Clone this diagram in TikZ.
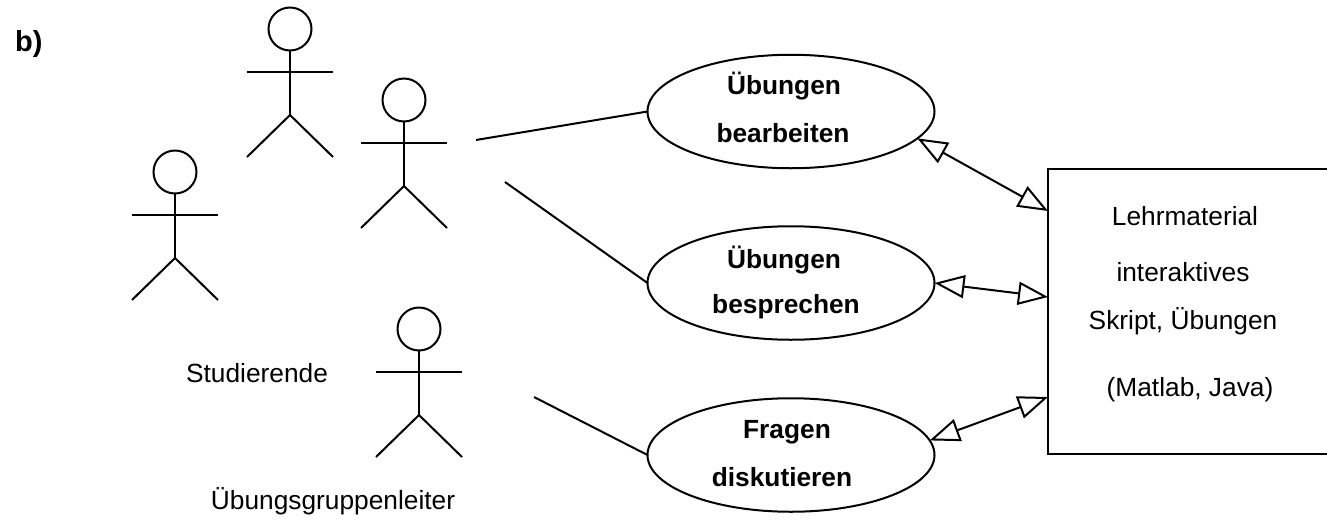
\documentclass[tikz,border=0pt]{standalone}
\usepackage{fontspec}
\setmainfont{Liberation Sans}
\usetikzlibrary{shapes.geometric,arrows.meta}
\tikzset{
  ln/.style={line width=2pt,black},
  usecase/.style={ellipse,draw,line width=2pt,minimum width=287pt,minimum height=113.5pt,inner sep=0pt,outer sep=0pt},
  txt/.style={anchor=base,inner sep=0pt,font=\fontsize{26.3}{30}\selectfont},
  btxt/.style={anchor=base,inner sep=0pt,font=\fontsize{26.3}{30}\selectfont\bfseries},
  assoc/.style={ln,{Triangle[open,length=30pt,width=23pt,line width=2pt]}-{Triangle[open,length=30pt,width=23pt,line width=2pt]}},
  actor/.pic={
    \node[circle,draw,line width=2pt,minimum size=43pt,inner sep=0pt,outer sep=0pt] (-head) at (0,0) {};
    \coordinate (-hip) at (0,86);
    \draw[ln] (-head.south) -- (-hip);
    \draw[ln] (-43,43) -- (43,43);
    \draw[ln] (-43,128) -- (-hip) -- (43,128);
  }
}
\begin{document}
\begin{tikzpicture}[x=1pt,y=-1pt]
\useasboundingbox (0,0) rectangle (1327,525);
\node[btxt,anchor=base west,font=\fontsize{29}{32}\selectfont\bfseries] (blabel) at (15,51) {b)};
\pic (a1) at (175,172) {actor};
\pic (a2) at (290,29) {actor};
\pic (a3) at (404,100) {actor};
\pic (a4) at (419,329) {actor};
\node[txt] (studierende) at (257,382) {Studierende};
\node[txt] (leiter) at (333,509) {Übungsgruppenleiter};
\node[usecase] (e1) at (791,111.5) {};
\node[usecase] (e2) at (791,283) {};
\node[usecase] (e3) at (791,455) {};
\node[btxt] (e1a) at (784,94) {Übungen};
\node[btxt] (e1b) at (783,142) {bearbeiten};
\node[btxt] (e2a) at (784,268) {Übungen};
\node[btxt] (e2b) at (786,313) {besprechen};
\node[btxt] (e3a) at (787,438) {Fragen};
\node[btxt] (e3b) at (782,486) {diskutieren};
\node[minimum width=279pt,minimum height=285pt,inner sep=0pt,outer sep=0pt] (box) at (1187.5,311.5) {};
\draw[ln] (box.north east) -- (box.north west) -- (box.south west) -- (box.south east);
\node[txt] (m1) at (1185,225) {Lehrmaterial};
\node[txt] (m2) at (1183,281) {interaktives};
\node[txt] (m3) at (1183,329) {Skript, Übungen};
\node[txt] (m4) at (1190,396) {(Matlab, Java)};
\coordinate (c1) at (476,140);
\coordinate (c2) at (505,182);
\coordinate (c3) at (534,397);
\draw[ln] (c1) -- (e1.west);
\draw[ln] (c2) -- (e2.west);
\draw[ln] (c3) -- (e3.west);
\coordinate (b1) at (1048,211);
\coordinate (b2) at (1048,297);
\coordinate (b3) at (1048,397);
\draw[assoc] (e1.-12) -- (b1);
\draw[assoc] (e2.east) -- (b2);
\draw[assoc] (e3.6) -- (b3);
\end{tikzpicture}
\end{document}
